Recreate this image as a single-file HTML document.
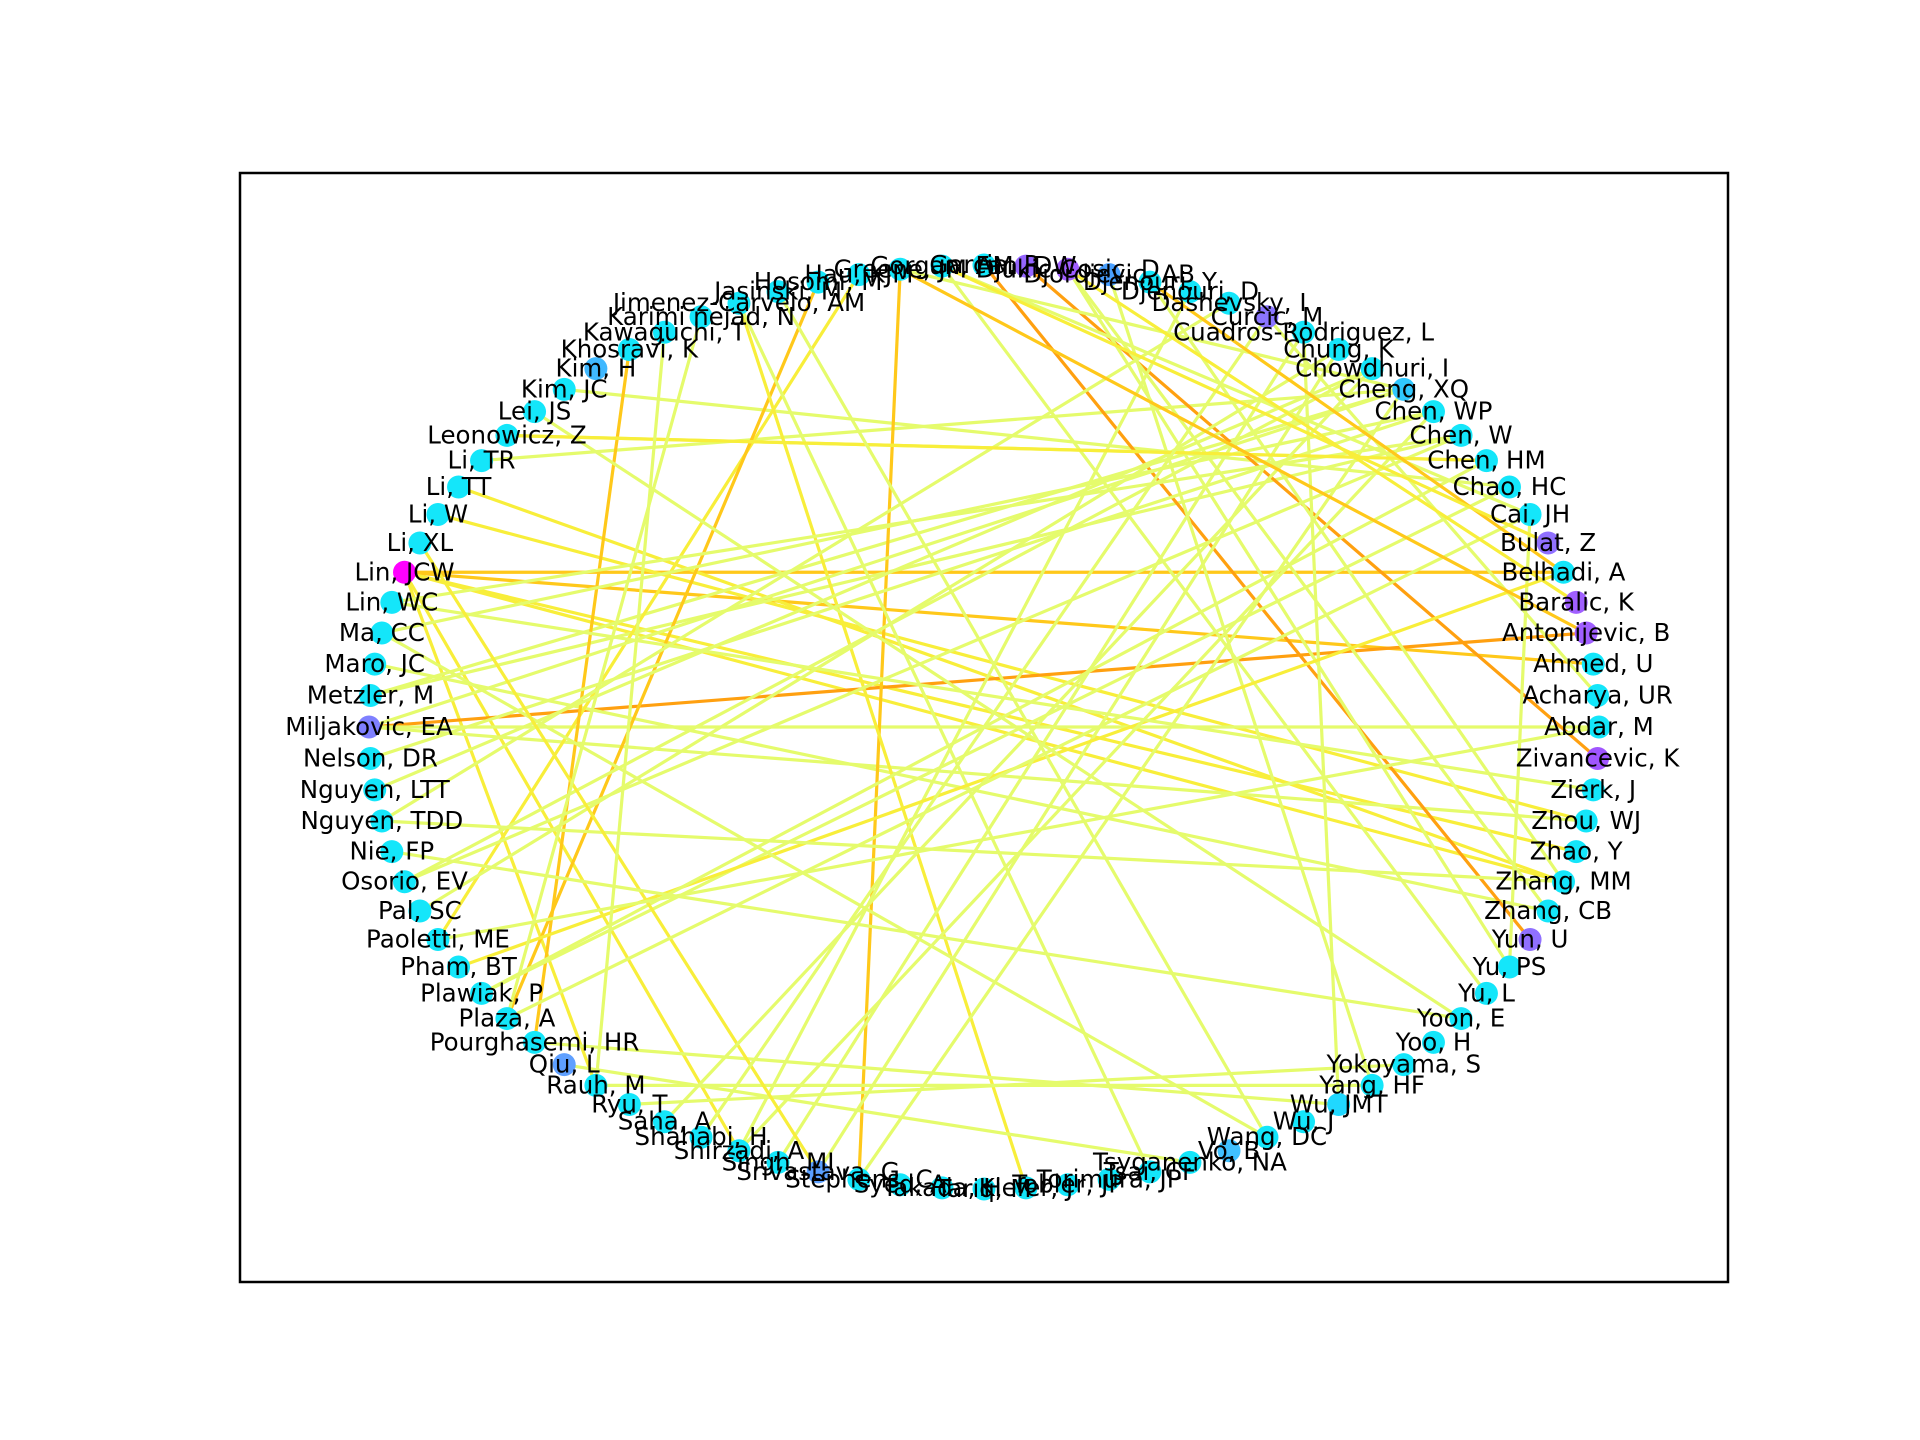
<!DOCTYPE html>
<html><head><meta charset="utf-8"><style>
html,body{margin:0;padding:0;background:#fff;}
svg{display:block;}
text{font-family:"DejaVu Sans","Liberation Sans",sans-serif;font-size:24.5px;fill:#000;}
</style></head><body>
<svg id="chart" width="1920" height="1440" viewBox="0 0 1920 1440" xmlns="http://www.w3.org/2000/svg">
<rect x="0" y="0" width="1920" height="1440" fill="#fff"/>
<g id="edges"></g>
<g id="nodes"></g>
<g id="labels"></g>
<rect x="240" y="173" width="1488" height="1109" fill="none" stroke="#000" stroke-width="2.5"/>
</svg>
<script>
const names = ["Abdar, M","Acharya, UR","Ahmed, U","Antonijevic, B","Baralic, K","Belhadi, A","Bulat, Z","Cai, JH","Chao, HC","Chen, HM","Chen, W","Chen, WP","Cheng, XQ","Chowdhuri, I","Chung, K","Cuadros-Rodriguez, L","Curcic, M","Dashevsky, I","Djenouri, D","Djenouri, Y","Djordjevic, AB","Djukic-Cosic, D","Fan, DW","Garcia, P","Gorgan, AM","Greene, JM","Hau, KJM","Hosomi, M","Jasinski, M","Jimenez-Carvelo, AM","Karimi nejad, N","Kawaguchi, T","Khosravi, K","Kim, H","Kim, JC","Lei, JS","Leonowicz, Z","Li, TR","Li, TT","Li, W","Li, XL","Lin, JCW","Lin, WC","Ma, CC","Maro, JC","Metzler, M","Miljakovic, EA","Nelson, DR","Nguyen, LTT","Nguyen, TDD","Nie, FP","Osorio, EV","Pal, SC","Paoletti, ME","Pham, BT","Plawiak, P","Plaza, A","Pourghasemi, HR","Qiu, L","Rauh, M","Ryu, T","Saha, A","Shahabi, H","Shirzadi, A","Singh, MI","Srivastava, G","Stephens, C","Syed, A","Takada, H","Tariq, M","Kiefer, J","Tobler, JP","Torimura, JP","Tsai, CF","Tsyganenko, NA","Vo, B","Wang, DC","Wu, J","Wu, JMT","Yang, HF","Yokoyama, S","Yoo, H","Yoon, E","Yu, L","Yu, PS","Yun, U","Zhang, CB","Zhang, MM","Zhao, Y","Zhou, WJ","Zierk, J","Zivancevic, K"];
const nodeColors = {3:"#a05fff",4:"#a05fff",6:"#9070ff",16:"#8a75ff",20:"#4aa0ff",21:"#a05fff",22:"#9565ff",33:"#40b8ff",41:"#ff00ff",46:"#7f80ff",58:"#5fa0ff",65:"#5a9fff",75:"#40c0ff",78:"#20d8ff",85:"#9070ff",91:"#a055ff",12:"#30c8ff"};
const edgeSrc = [41,41,41,41,41,41,38,39,46,46,46,37,34,45,45,44,26,27,32,25,29,29,23,22,21,24,24,25,21,20,19,18,17,16,15,14,13,12,11,10,9,8,7,54,55,57,58,59,60,63,64,66,52,51,49,48,47,43,42,35,36,40,30,31,28,56,53,50,61,62,19,21,24,25];
const edgeDst = [5,2,87,59,63,88,87,89,3,89,0,12,8,12,10,86,53,56,57,66,70,73,85,91,84,7,83,12,86,79,87,63,49,1,78,65,51,46,43,42,36,55,84,5,9,78,74,79,80,11,15,12,14,10,87,13,11,76,90,82,9,65,56,59,76,7,0,82,13,16,5,4,6,3];
const edgeWeight = [2,2,1,1,1,1,1,1,3,0,0,0,0,0,0,0,1,2,2,2,1,0,3,3,0,0,0,0,0,0,0,0,0,0,0,0,0,0,0,0,0,0,0,1,0,0,0,0,0,0,0,0,0,0,0,0,0,0,0,0,1,1,0,0,0,0,0,0,0,0,2,1,1,2];
const edgePalette = ["#e5fb6c","#f8ee3a","#ffc81a","#ffa010"];
const N = names.length, CX = 984, CY = 727, RX = 615, RY = 462;
function px(i){return CX + RX*Math.cos(2*Math.PI*i/N);}
function py(i){return CY - RY*Math.sin(2*Math.PI*i/N);}
const NS = "http://www.w3.org/2000/svg";
const eg = document.getElementById('edges');
for (let k=0;k<edgeSrc.length;k++){
  const l = document.createElementNS(NS,'line');
  l.setAttribute('x1',px(edgeSrc[k]));l.setAttribute('y1',py(edgeSrc[k]));
  l.setAttribute('x2',px(edgeDst[k]));l.setAttribute('y2',py(edgeDst[k]));
  l.setAttribute('stroke',edgePalette[edgeWeight[k]]);l.setAttribute('stroke-width','3.2');
  
  
  eg.appendChild(l);
}
const ng = document.getElementById('nodes'), lg = document.getElementById('labels');
for (let i=0;i<N;i++){
  const c = document.createElementNS(NS,'circle');
  c.setAttribute('cx',px(i));c.setAttribute('cy',py(i));c.setAttribute('r','11.5');
  c.setAttribute('fill',nodeColors[i]||"#14e6fa");
  
  
  ng.appendChild(c);
  const t = document.createElementNS(NS,'text');
  t.setAttribute('x',px(i));t.setAttribute('y',py(i)+8);t.setAttribute('text-anchor','middle');
  t.textContent = names[i];
  
  
  lg.appendChild(t);
}
</script>
</body></html>
